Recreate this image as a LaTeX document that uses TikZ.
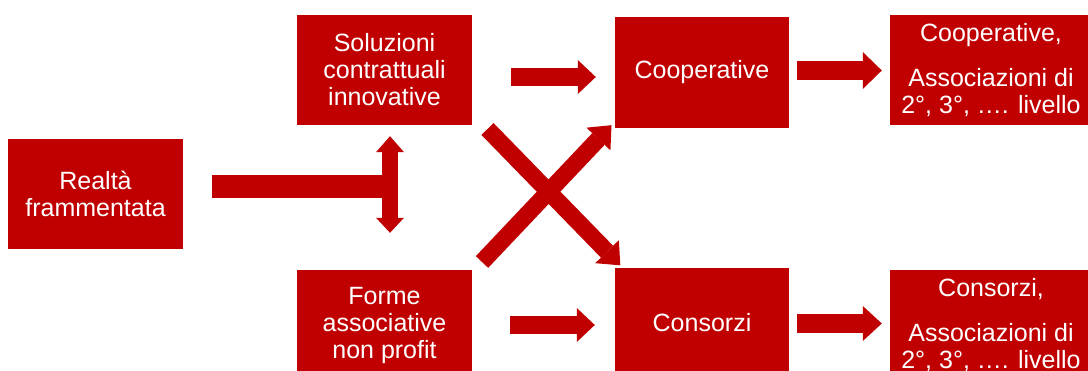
\documentclass[tikz,border=0pt]{standalone}
\usepackage{fontspec}
\setmainfont{Liberation Sans}
\usetikzlibrary{arrows.meta,calc}
\definecolor{boxred}{HTML}{C00000}
\begin{document}
\begin{tikzpicture}[x=1pt,y=-1pt,
  box/.style={fill=boxred,draw=none,text=white,align=center,inner sep=0pt,
    font=\fontsize{25}{27}\selectfont},
  bigarrow/.style={draw=boxred,line width=18pt,line cap=butt,
    -{Triangle[width=34pt,length=18pt,fill=boxred,line width=0pt]}},
  xarrow/.style={draw=boxred,line width=17pt,line cap=butt,
    -{Triangle[width=33pt,length=19pt,fill=boxred,line width=0pt]}}]
\useasboundingbox (0,0) rectangle (1088,371);
\begin{scope}
\clip (0,0) rectangle (1088,371);
% boxes
\node[box,minimum width=175pt,minimum height=110pt] (real) at (95.5,194) {Realtà\\frammentata};
\node[box,minimum width=175pt,minimum height=110pt] (sol) at (384.5,70) {Soluzioni\\contrattuali\\innovative};
\node[box,minimum width=175pt,minimum height=110pt] (forme) at (384.5,325) {Forme\\associative\\non profit};
\node[box,minimum width=174pt,minimum height=111pt] (coop) at (702,72.5) {Cooperative};
\node[box,minimum width=174pt,minimum height=110pt] (cons) at (702,323) {Consorzi};
\node[box,minimum width=202pt,minimum height=110pt] (coop2) at (991,70) {Cooperative,\\[18pt]Associazioni di\\2°, 3°, …. livello};
\node[box,minimum width=202pt,minimum height=110pt] (cons2) at (991,325) {Consorzi,\\[18pt]Associazioni di\\2°, 3°, …. livello};
% connector end points
\coordinate (a1s) at ($(sol.east)+(39,7)$);
\coordinate (a1e) at ($(coop.west)+(-19,4.5)$);
\coordinate (a2s) at ($(forme.east)+(38,0)$);
\coordinate (a2e) at ($(cons.west)+(-20,2)$);
\coordinate (a3s) at ($(coop.east)+(8,-2)$);
\coordinate (a3e) at ($(coop2.west)+(-8,0.5)$);
\coordinate (a4s) at ($(cons.east)+(8,0.5)$);
\coordinate (a4e) at ($(cons2.west)+(-8,-1.5)$);
\coordinate (hbs) at ($(real.east)+(29,-7.5)$);
\coordinate (hbe) at (398,186.5);
\coordinate (vt) at ($(sol.south)+(5.5,11)$);
\coordinate (vb) at ($(forme.north)+(5.5,-37)$);
\coordinate (xa) at (487.5,129);
\coordinate (xb) at (482,262);
% connectors
\draw[bigarrow] (a1s) -- (a1e);
\draw[bigarrow] (a2s) -- (a2e);
\draw[bigarrow,line width=19pt,-{Triangle[width=37pt,length=19pt,fill=boxred,line width=0pt]}] (a3s) -- (a3e);
\draw[bigarrow,line width=19pt,-{Triangle[width=35pt,length=19pt,fill=boxred,line width=0pt]}] (a4s) -- (a4e);
\draw[draw=boxred,line width=23pt,line cap=butt] (hbs) -- (hbe);
\draw[draw=boxred,line width=16pt,{Triangle[width=28pt,length=16pt,fill=boxred,line width=0pt]}-{Triangle[width=28pt,length=15pt,fill=boxred,line width=0pt]}] (vt) -- (vb);
\draw[xarrow] (xa) -- ($(cons.north west)+(5.5,-2.5)$);
\draw[xarrow] (xb) -- ($(coop.south west)+(-3.3,-3)$);
\end{scope}
\end{tikzpicture}
\end{document}
